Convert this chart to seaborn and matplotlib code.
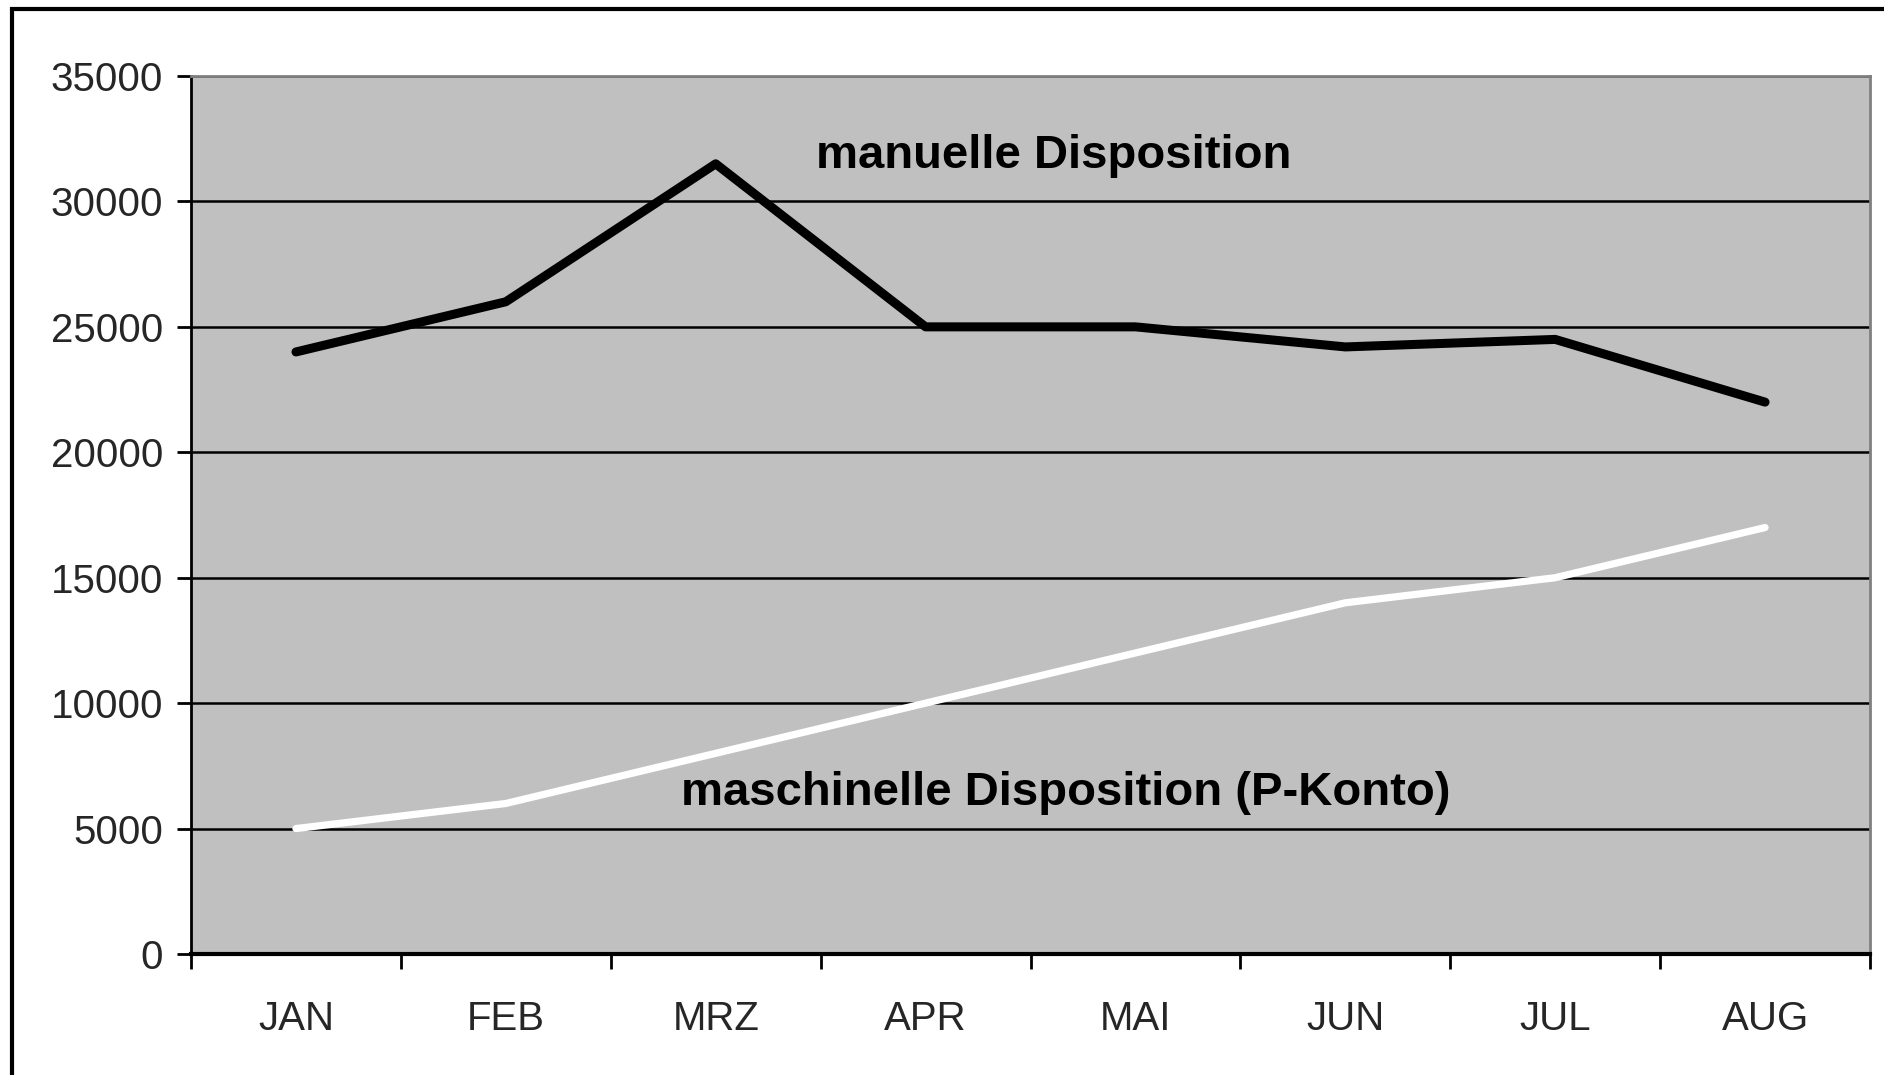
import pandas as pd
import matplotlib.pyplot as plt
import seaborn as sns
from matplotlib.patches import Rectangle

# style
sns.set_theme(style="white")
plt.rcParams['font.family'] = ['Liberation Sans', 'DejaVu Sans']

# data
months = ["JAN", "FEB", "MRZ", "APR", "MAI", "JUN", "JUL", "AUG"]
manuell = [24000, 26000, 31500, 25000, 25000, 24200, 24500, 22000]
maschinell = [5000, 6000, 8000, 10000, 12000, 14000, 15000, 17000]
y_ticks = [0, 5000, 10000, 15000, 20000, 25000, 30000, 35000]

df = pd.DataFrame({
    "pos": list(range(len(months))) * 2,
    "wert": manuell + maschinell,
    "serie": ["manuelle Disposition"] * len(months) + ["maschinelle Disposition (P-Konto)"] * len(months),
})

fig = plt.figure(figsize=(18.84, 10.75), dpi=100)
ax = fig.add_axes([191 / 1884, 1 - 954 / 1075, (1870 - 191) / 1884, (954 - 76) / 1075])
ax.set_facecolor("#c0c0c0")

sns.lineplot(data=df, x="pos", y="wert", hue="serie",
             palette={"manuelle Disposition": "black",
                      "maschinelle Disposition (P-Konto)": "white"},
             linewidth=6.5, legend=False, ax=ax)
ax.lines[1].set_linewidth(5.2)

ax.set_xlim(-0.5, len(months) - 0.5)
ax.set_ylim(0, 35000)
ax.set_yticks(y_ticks)
ax.set_yticklabels([str(v) for v in y_ticks], fontsize=29)
for v in y_ticks[1:]:
    ax.axhline(v, color="black", linewidth=1.8, zorder=0.5)

# category labels between boundary ticks
ax.set_xticks([i + 0.5 for i in range(-1, len(months))])
ax.set_xticklabels([])
ax.set_xticks(range(len(months)), minor=True)
ax.set_xticklabels(months, minor=True, fontsize=29)
ax.tick_params(axis="x", which="major", direction="out", length=11, width=2, color="black", bottom=True)
ax.tick_params(axis="x", which="minor", length=0, pad=33)
ax.tick_params(axis="y", direction="out", length=10, width=2, color="black", left=True, pad=10)
ax.set_xlabel("")
ax.set_ylabel("")

for side in ["top", "right"]:
    ax.spines[side].set_color("#808080")
    ax.spines[side].set_linewidth(2)
ax.spines["left"].set_color("black")
ax.spines["left"].set_linewidth(2)
ax.spines["bottom"].set_color("black")
ax.spines["bottom"].set_linewidth(3)

ax.text(3.61, 31800, "manuelle Disposition", fontsize=34, fontweight="bold",
        ha="center", va="center", color="black")
ax.text(3.67, 6400, "maschinelle Disposition (P-Konto)", fontsize=34, fontweight="bold",
        ha="center", va="center", color="black")

# outer frame
fig.patches.append(Rectangle((12 / 1884, -0.05), 1.2, 1 - 9 / 1075 + 0.05,
                             transform=fig.transFigure, fill=False,
                             edgecolor="black", linewidth=3))

fig.savefig("out.png", dpi=100)
